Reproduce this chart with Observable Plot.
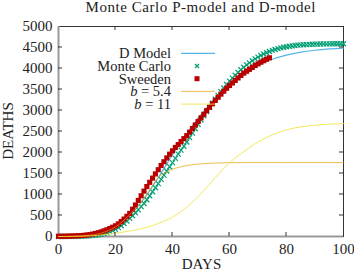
<!DOCTYPE html>
<html><head><meta charset="utf-8">
<script src="https://cdn.jsdelivr.net/npm/d3@7"></script>
<script src="https://cdn.jsdelivr.net/npm/@observablehq/plot@0.6"></script>
<style>body{margin:0;background:#fff} #chart{width:354px;height:273px}</style>
</head><body><div id="chart"></div>
<script>
const title = "Monte Carlo P-model and D-model";
const xLabel = "DAYS";
const yLabel = "DEATHS";
const xTicks = [0, 20, 40, 60, 80, 100];
const yTicks = [0, 500, 1000, 1500, 2000, 2500, 3000, 3500, 4000, 4500, 5000];

// Sweden observed cumulative deaths, day 0..74
const sweden = [5, 5, 6, 7, 10, 12, 15, 18, 22, 28,
  35, 45, 58, 72, 90, 110, 135, 160, 190, 220,
  255, 300, 355, 415, 480, 550, 650, 750, 860, 970,
  1080, 1190, 1290, 1390, 1490, 1590, 1690, 1780, 1870, 1960,
  2040, 2120, 2190, 2260, 2330, 2400, 2485, 2570, 2655, 2740,
  2825, 2910, 2995, 3075, 3160, 3240, 3315, 3390, 3460, 3530,
  3595, 3655, 3715, 3775, 3835, 3890, 3935, 3980, 4025, 4070,
  4110, 4150, 4185, 4220, 4255];

// Monte Carlo, day 0..100
const monteCarlo = [0, 0, 1, 1, 2, 3, 4, 5, 7, 9,
  12, 16, 22, 30, 40, 52, 70, 90, 115, 140,
  170, 210, 255, 310, 370, 430, 495, 565, 635, 710,
  785, 875, 970, 1065, 1160, 1260, 1360, 1460, 1560, 1660,
  1760, 1860, 1960, 2055, 2150, 2250, 2355, 2460, 2565, 2670,
  2775, 2875, 2975, 3075, 3175, 3270, 3360, 3450, 3535, 3620,
  3700, 3770, 3840, 3905, 3970, 4030, 4085, 4135, 4185, 4230,
  4270, 4310, 4345, 4375, 4405, 4430, 4452, 4472, 4490, 4505,
  4518, 4530, 4540, 4548, 4555, 4561, 4566, 4570, 4574, 4577,
  4580, 4582, 4584, 4585, 4586, 4587, 4588, 4589, 4589, 4590, 4590];

const modelDays = [0, 5, 10, 15, 20, 25, 30, 35, 40, 45, 50, 55, 60, 65, 70, 75, 80, 85, 90, 95, 100];
const dModel = [0, 5, 30, 100, 250, 500, 900, 1400, 1950, 2450, 2900, 3300, 3650, 3900, 4080, 4220, 4320, 4390, 4435, 4465, 4485];
const b54Days = [0, 5, 10, 15, 20, 25, 30, 32, 35, 38, 40, 43, 45, 50, 55, 60, 65, 70, 80, 90, 100];
const b54 = [0, 5, 25, 80, 230, 520, 900, 1100, 1400, 1540, 1600, 1660, 1690, 1730, 1750, 1757, 1760, 1760, 1760, 1760, 1760];
const b11 = [0, 3, 12, 35, 80, 130, 200, 310, 460, 700, 1020, 1400, 1755, 2020, 2250, 2420, 2540, 2610, 2650, 2675, 2690];

const swData = sweden.map((v, i) => ({day: i, v}));
const mcData = monteCarlo.map((v, i) => ({day: i, v}));
const dData = modelDays.map((d, i) => ({day: d, v: dModel[i]}));
const b54Data = b54Days.map((d, i) => ({day: d, v: b54[i]}));
const b11Data = modelDays.map((d, i) => ({day: d, v: b11[i]}));

const C = {d: "#56b4e9", mc: "#009e73", sw: "#b80000", b54: "#e69f00", b11: "#f0e442"};

const plot = Plot.plot({
  width: 354, height: 273,
  marginLeft: 58, marginRight: 11, marginTop: 26, marginBottom: 37,
  style: {fontFamily: "Liberation Serif", fontSize: "15px", color: "#222", background: "#fff"},
  x: {domain: [0, 100]},
  y: {domain: [0, 5000]},
  marks: [
    Plot.frame({stroke: "#333", strokeWidth: 1}),
    Plot.ruleY([0], {stroke: "#999", strokeWidth: 2}),
    Plot.ruleX([0], {stroke: "#999", strokeWidth: 2}),
    Plot.axisX({ticks: xTicks, tickSize: 0, tickPadding: 7, tickFormat: d3.format("d"), label: null, fontSize: 15}),
    Plot.axisY({ticks: yTicks, tickSize: 0, tickPadding: 6, tickFormat: d3.format("d"), label: null, fontSize: 15}),
    Plot.line(dData, {x: "day", y: "v", stroke: C.d, strokeWidth: 1.2, curve: "monotone-x"}),
    Plot.dot(mcData, {x: "day", y: "v", symbol: "times", r: 2.4, stroke: C.mc, strokeWidth: 1.2}),
    Plot.dot(swData, {x: "day", y: "v", symbol: "square", r: 2.9, fill: C.sw, stroke: null}),
    Plot.line(b54Data, {x: "day", y: "v", stroke: C.b54, strokeWidth: 1, strokeOpacity: 0.7, curve: "monotone-x"}),
    Plot.line(b11Data, {x: "day", y: "v", stroke: C.b11, strokeWidth: 1, strokeOpacity: 0.85, curve: "monotone-x"})
  ]
});

const svg = d3.select(plot);
const sx = plot.scale("x"), sy = plot.scale("y");
const [x0, x1] = sx.range, [y0, y1] = sy.range; // y0 bottom, y1 top
const tk = 4;
const g = svg.append("g").attr("stroke", "#333").attr("stroke-width", 1);
for (const t of xTicks.slice(1, -1)) {
  const px = sx.apply(t);
  g.append("line").attr("x1", px).attr("x2", px).attr("y1", y0).attr("y2", y0 - tk);
  g.append("line").attr("x1", px).attr("x2", px).attr("y1", y1).attr("y2", y1 + tk);
}
for (const t of yTicks.slice(1, -1)) {
  const py = sy.apply(t);
  g.append("line").attr("x1", x0).attr("x2", x0 + tk).attr("y1", py).attr("y2", py);
  g.append("line").attr("x1", x1).attr("x2", x1 - tk).attr("y1", py).attr("y2", py);
}

const txt = svg.append("g").attr("font-family", "Liberation Serif").attr("fill", "#222");
txt.append("text").attr("x", (x0 + x1) / 2).attr("y", 11.5).attr("text-anchor", "middle")
  .attr("font-size", 15).attr("textLength", 230).attr("lengthAdjust", "spacing").text(title);
txt.append("text").attr("x", (x0 + x1) / 2 + 1).attr("y", 269).attr("text-anchor", "middle")
  .attr("font-size", 15).text(xLabel);
txt.append("text").attr("transform", `translate(12.5,${(y0 + y1) / 2}) rotate(-90)`)
  .attr("text-anchor", "middle").attr("font-size", 15).text(yLabel);

// legend
const legend = [
  {label: "D Model", type: "line", color: C.d, op: 1},
  {label: "Monte Carlo", type: "times", color: C.mc},
  {label: "Sweeden", type: "square", color: C.sw},
  {label: "b = 5.4", type: "line", color: C.b54, op: 0.7, italic: true},
  {label: "b = 11", type: "line", color: C.b11, op: 0.85, italic: true}
];
const lg = svg.append("g");
legend.forEach((d, i) => {
  const yy = 53.3 + i * 12.7;
  const t = lg.append("text").attr("x", 171).attr("y", yy).attr("dy", "0.35em")
    .attr("text-anchor", "end").attr("font-family", "Liberation Serif").attr("font-size", 14.5).attr("fill", "#222");
  if (d.italic) {
    const parts = d.label.split(" ");
    t.append("tspan").attr("font-style", "italic").text(parts[0]);
    t.append("tspan").text(" " + parts.slice(1).join(" "));
  } else t.text(d.label);
  if (d.type === "line") {
    lg.append("line").attr("x1", 181).attr("x2", 215).attr("y1", yy).attr("y2", yy)
      .attr("stroke", d.color).attr("stroke-width", d.color === C.d ? 1.2 : 1).attr("stroke-opacity", d.op);
  } else if (d.type === "times") {
    lg.append("path").attr("d", "M-2,-2L2,2M-2,2L2,-2").attr("transform", `translate(197,${yy})`)
      .attr("stroke", d.color).attr("stroke-width", 1.2);
  } else {
    lg.append("rect").attr("x", 194.5).attr("y", yy - 2.5).attr("width", 5).attr("height", 5).attr("fill", d.color);
  }
});

document.getElementById("chart").appendChild(plot);
</script>
</body></html>
